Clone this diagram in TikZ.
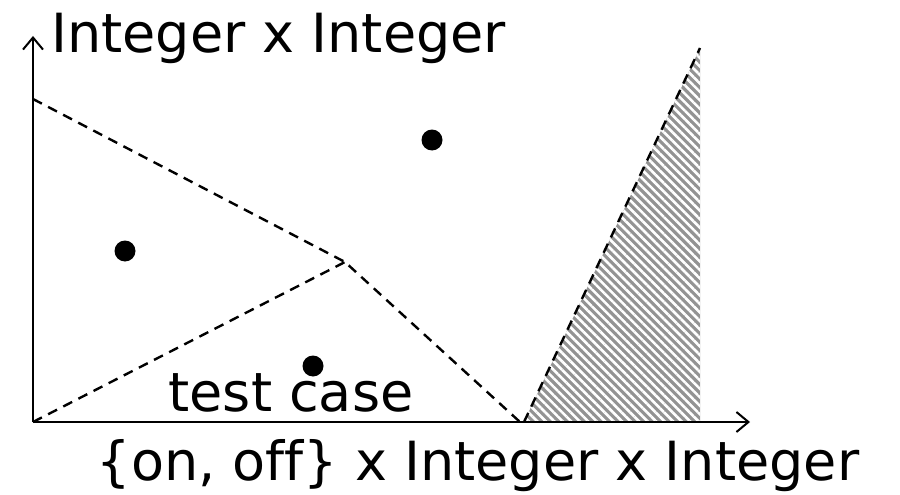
\documentclass[tikz,border=0pt]{standalone}
\usepackage{fontspec}
\setmainfont{DejaVu Sans}[Ligatures=NoCommon]
\usetikzlibrary{patterns.meta,arrows.meta}
\begin{document}
\begin{tikzpicture}[x=1pt,y=-1pt,
  axis/.style={line width=2pt,-{Straight Barb[length=12pt,width=20pt,line width=2pt]}},
  dashline/.style={line width=2.4pt,dash pattern=on 10pt off 7pt},
  dot/.style={circle,fill=black,inner sep=0pt,minimum size=21pt},
  lbl/.style={inner sep=0pt,font=\fontsize{54}{60}\selectfont}]
\useasboundingbox (0,0) rectangle (900,495);
\coordinate (O) at (33,422);
\coordinate (ytop) at (33,36);
\coordinate (xend) at (750,422);
\coordinate (A) at (33,99);
\coordinate (V) at (345,262);
\coordinate (B) at (520,422);
\coordinate (T1) at (524,422);
\coordinate (T2) at (700,48);
\coordinate (T3) at (700,422);
% shaded triangle
\fill[gray!85] (T1) -- (T2) -- (T3) -- cycle;
\fill[pattern={Lines[angle=-45,distance=6pt,line width=2.6pt]},pattern color=white] (T1) -- (T2) -- (T3) -- cycle;
\draw[dashline] (T1) -- (T2);
% dashed partition
\draw[dashline] (A) -- (V) -- (B);
\draw[dashline] (O) -- (V);
% axes
\draw[axis] (O) -- (ytop);
\draw[axis] (O) -- (xend);
% dots
\node[dot] (d1) at (125,251) {};
\node[dot] (d2) at (432,140) {};
\node[dot] (d3) at (313,366) {};
% labels
\node[lbl,anchor=base west] (ylab) at (51,53) {Integer x Integer};
\node[lbl,anchor=base] (tc) at (291,411) {test case};
\node[lbl,anchor=base] (xlab) at (478,480) {\{on, off\} x Integer x Integer};
\end{tikzpicture}
\end{document}
